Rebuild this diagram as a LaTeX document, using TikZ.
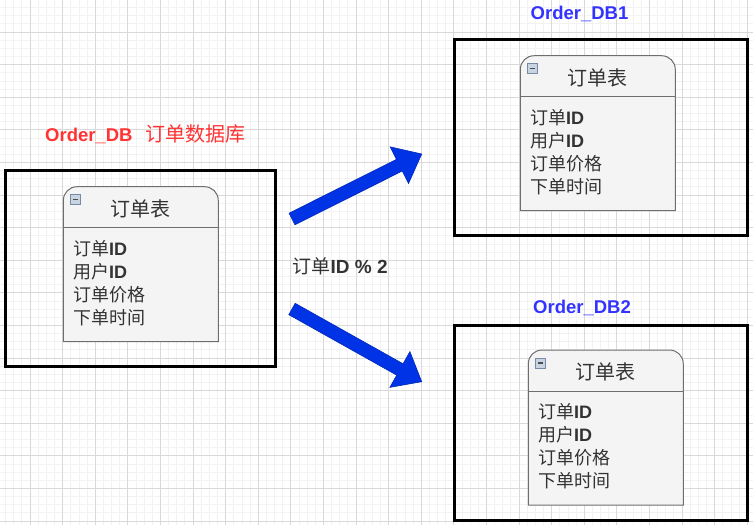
\documentclass[tikz,border=0pt]{standalone}
\usepackage{fontspec}
\setmainfont{Liberation Sans}
\newfontfamily\cjk{Noto Sans CJK SC}
\usetikzlibrary{calc}
\definecolor{arrowblue}{RGB}{0,51,230}
\definecolor{dbred}{RGB}{255,51,51}
\definecolor{dbblue}{RGB}{51,51,255}
\definecolor{tblfill}{RGB}{244,244,244}
\definecolor{tblline}{RGB}{110,110,110}
\definecolor{iconfill}{RGB}{200,212,226}
\definecolor{iconline}{RGB}{120,138,165}
\tikzset{
  majorgrid/.style={draw=black!15, line width=1pt},
  minorgrid/.style={draw=black!5, line width=0.8pt},
  dbbox/.style={draw=black, line width=3pt},
  tblbody/.style={draw=tblline, fill=tblfill, line width=1pt},
  tbltitle/.style={inner sep=0pt, text=black!80, font=\fontsize{20}{20}\selectfont},
  field/.style={anchor=west, inner sep=0pt, text=black!80, font=\fontsize{18}{18}\selectfont},
  dbtitle/.style={inner sep=0pt, font=\fontsize{18.5}{18.5}\selectfont\bfseries},
  bigarrow/.style={fill=arrowblue, draw=arrowblue!80!black, line width=0.6pt, line join=miter}
}
% one table card, top left corner at (#2,#3)
\newcommand\ordertable[3]{%
  \begin{scope}[shift={(#2,#3)}]
  \filldraw[tblbody] (0,155) -- (0,14) .. controls (0,6) and (6,0) .. (14,0) -- (141,0)
    .. controls (149,0) and (155,6) .. (155,14) -- (155,155) -- cycle;
  \draw[tblbody] (0,41) -- (155,41);
  \draw[draw=iconline, fill=iconfill, line width=0.7pt] (7,8) rectangle (17.5,18);
  \draw[black!70, line width=1.2pt] (9.5,13) -- (15,13);
  \node[tbltitle] (#1-title) at (77,22) {\cjk 订单表};
  \node[field] (#1-f1) at (9.5,62) {{\cjk 订单}\textbf{ID}};
  \node[field] (#1-f2) at (9.5,85) {{\cjk 用户}\textbf{ID}};
  \node[field] (#1-f3) at (9.5,108) {\cjk 订单价格};
  \node[field] (#1-f4) at (9.5,131) {\cjk 下单时间};
  \end{scope}}
% fat arrow from #1 to #2
\newcommand\fatarrow[2]{%
  \coordinate (#2-base) at ($(#2)!25pt!(#1)$);
  \filldraw[bigarrow] ($(#1)!6.5pt!90:(#2)$) -- ($(#2-base)!6.5pt!-90:(#1)$)
    -- ($(#2-base)!20.5pt!-90:(#1)$) -- (#2) -- ($(#2-base)!20.5pt!90:(#1)$)
    -- ($(#2-base)!6.5pt!90:(#1)$) -- ($(#1)!6.5pt!-90:(#2)$) -- cycle;}

\begin{document}
\begin{tikzpicture}[x=1pt, y=-1pt]
\useasboundingbox[fill=white] (0,0) rectangle (753,525);
% grid
\foreach \k in {1,...,92} \draw[minorgrid] ({-2.6+\k*8.15},0) -- ({-2.6+\k*8.15},525);
\foreach \k in {1,...,64} \draw[minorgrid] (0,{-0.6+\k*8.15}) -- (753,{-0.6+\k*8.15});
\foreach \k in {1,...,23} \draw[majorgrid] ({-2.6+\k*32.6},0) -- ({-2.6+\k*32.6},525);
\foreach \k in {1,...,16} \draw[majorgrid] (0,{-0.6+\k*32.6}) -- (753,{-0.6+\k*32.6});

% source database
\draw[dbbox] (5,170) rectangle (275,366.5);
\node[dbtitle, text=dbred, anchor=west] (src) at (45,134) {Order\_DB\hspace{13pt}{\cjk\mdseries\fontsize{20}{20}\selectfont 订单数据库}};
\ordertable{t0}{63.3}{186.7}

% shards
\draw[dbbox] (454,39) rectangle (747.5,235.5);
\node[dbtitle, text=dbblue] (db1) at (579.5,14) {Order\_DB1};
\ordertable{t1}{520.3}{55.7}

\draw[dbbox] (454,325) rectangle (747.5,520.5);
\node[dbtitle, text=dbblue] (db2) at (582,308) {Order\_DB2};
\ordertable{t2}{528.3}{350}

% routing
\coordinate (up) at (292,219);
\coordinate (upto) at (421.7,154);
\coordinate (down) at (292,309);
\coordinate (downto) at (421.7,381.7);
\fatarrow{up}{upto}
\fatarrow{down}{downto}
\node[field, font=\fontsize{19}{19}\selectfont] (rule) at (292.5,266.7) {{\cjk 订单}\textbf{ID \% 2}};
\end{tikzpicture}
\end{document}
